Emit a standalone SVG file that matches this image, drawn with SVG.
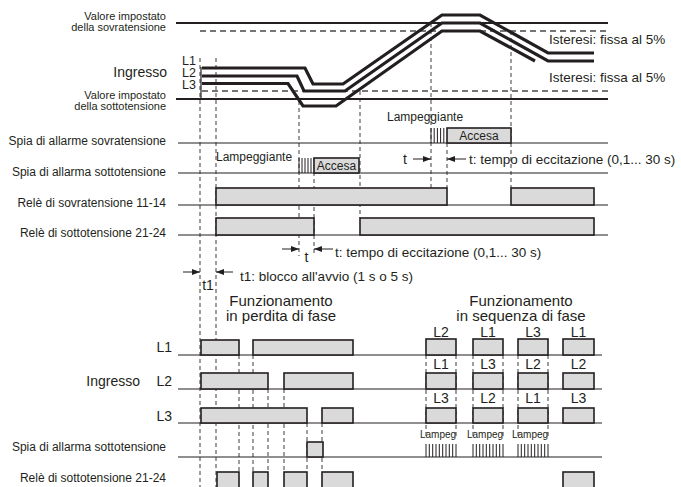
<svg xmlns="http://www.w3.org/2000/svg" width="681" height="487" viewBox="0 0 681 487">
<defs>
<style>
text{font-family:"Liberation Sans",Arial,sans-serif;fill:#231f20}
.s11{font-size:11px}
.s12{font-size:12px}
.s13{font-size:13.5px}
.sL{font-size:12.5px}
.s14{font-size:14px}
.s15{font-size:15px}
.s10{font-size:10px}
.e{text-anchor:end}
.m{text-anchor:middle}
.row{stroke:#231f20;stroke-width:1.2;fill:none}
.set{stroke:#231f20;stroke-width:2;fill:none}
.hd{stroke:#4a4a4a;stroke-width:1.3;stroke-dasharray:6 4;fill:none}
.vd{stroke:#3c3c3c;stroke-width:1;stroke-dasharray:4 3;fill:none}
.box{fill:#dadada;stroke:#231f20;stroke-width:1.6}
.wave{fill:none;stroke:#231f20;stroke-width:3.2;stroke-linejoin:miter}
.hat{stroke:#231f20;stroke-width:1}
.ar{stroke:#231f20;stroke-width:1;fill:none}
</style>
<marker id="arr" viewBox="0 0 8 6" refX="8" refY="3" markerWidth="8" markerHeight="6" markerUnits="userSpaceOnUse" orient="auto">
<path d="M0,0 L8,3 L0,6 z" fill="#231f20"/>
</marker>
</defs>
<rect width="681" height="487" fill="#ffffff"/>

<g id="connectors">
<line class="vd" x1="200" y1="58" x2="200" y2="487"/>
<line class="vd" x1="216" y1="58" x2="216" y2="487"/>
<line class="vd" x1="299" y1="101" x2="299" y2="256"/>
<line class="vd" x1="314" y1="158" x2="314" y2="256"/>
<line class="vd" x1="360" y1="91" x2="360" y2="218"/>
<line class="vd" x1="431" y1="23" x2="431" y2="188"/>
<line class="vd" x1="447" y1="143" x2="447" y2="188"/>
<line class="vd" x1="511" y1="31" x2="511" y2="188"/>
<line class="vd" x1="239" y1="355" x2="239" y2="472"/>
<line class="vd" x1="253" y1="355" x2="253" y2="472"/>
<line class="vd" x1="268" y1="389" x2="268" y2="472"/>
<line class="vd" x1="284" y1="389" x2="284" y2="472"/>
<line class="vd" x1="307" y1="423" x2="307" y2="472"/>
<line class="vd" x1="322" y1="423" x2="322" y2="472"/>
<line class="vd" x1="426" y1="355" x2="426" y2="436"/>
<line class="vd" x1="456" y1="355" x2="456" y2="436"/>
<line class="vd" x1="473" y1="355" x2="473" y2="436"/>
<line class="vd" x1="503" y1="355" x2="503" y2="436"/>
<line class="vd" x1="518" y1="355" x2="518" y2="436"/>
<line class="vd" x1="548" y1="355" x2="548" y2="436"/>
<line class="ar" x1="413" y1="159" x2="431" y2="159" marker-end="url(#arr)"/>
<line class="ar" x1="466" y1="159" x2="447" y2="159" marker-end="url(#arr)"/>
<line class="ar" x1="282" y1="249" x2="299" y2="249" marker-end="url(#arr)"/>
<line class="ar" x1="333" y1="249" x2="314" y2="249" marker-end="url(#arr)"/>
<line class="ar" x1="183" y1="272" x2="200" y2="272" marker-end="url(#arr)"/>
<line class="ar" x1="233" y1="272" x2="216" y2="272" marker-end="url(#arr)"/>
</g>

<g id="input-top">
<line class="set" x1="176" y1="23" x2="608" y2="23"/>
<line class="hd" x1="200" y1="31" x2="608" y2="31"/>
<line class="hd" x1="202" y1="91" x2="608" y2="91"/>
<line class="set" x1="176" y1="99" x2="608" y2="99"/>
<text class="s11 e" x="166" y="20">Valore impostato</text>
<text class="s11 e" x="166" y="30.5">della sovratensione</text>
<text class="s11 e" x="166" y="99">Valore impostato</text>
<text class="s11 e" x="166" y="109.5">della sottotensione</text>
<text class="s14 e" x="167" y="77">Ingresso</text>
<text class="sL" x="182" y="65">L1</text>
<text class="sL" x="182" y="77">L2</text>
<text class="sL" x="182" y="89">L3</text>
<text class="s13" x="549" y="44">Isteresi: fissa al 5%</text>
<text class="s13" x="549" y="82">Isteresi: fissa al 5%</text>
<line class="row" x1="201" y1="67" x2="201" y2="99"/>
<polyline class="wave" points="202,68 305,68 313,84 343,84 442,15 480,15 548,53 594,53"/>
<polyline class="wave" points="202,76 297,76 304,91 345,91 442,23 480,23 548,61 594,61"/>
<polyline class="wave" points="202,83.5 288,83.5 303,106 336,106 442,31 480,31 535,61"/>
</g>

<g id="rows-top">
<line class="row" x1="178" y1="143" x2="608" y2="143"/>
<line class="row" x1="178" y1="173" x2="608" y2="173"/>
<line class="row" x1="178" y1="205" x2="608" y2="205"/>
<line class="row" x1="178" y1="235" x2="608" y2="235"/>
<text class="s12 e" x="166" y="145">Spia di allarme sovratensione</text>
<text class="s12 e" x="166" y="175.5">Spia di allarma sottotensione</text>
<text class="s12 e" x="166" y="206.5">Relè di sovratensione 11-14</text>
<text class="s12 e" x="166" y="236.5">Relè di sottotensione 21-24</text>
</g>

<g id="lamp-over">
<text class="s12" x="387" y="121">Lampeggiante</text>
<g class="hat"><line x1="431" y1="128" x2="431" y2="143"/><line x1="434.2" y1="128" x2="434.2" y2="143"/><line x1="437.4" y1="128" x2="437.4" y2="143"/><line x1="440.6" y1="128" x2="440.6" y2="143"/><line x1="443.8" y1="128" x2="443.8" y2="143"/></g>
<rect class="box" x="447" y="128" width="64" height="15"/>
<text class="s12 m" x="479" y="140">Accesa</text>
</g>

<g id="lamp-under">
<text class="s12" x="216" y="160.5">Lampeggiante</text>
<g class="hat"><line x1="299" y1="158" x2="299" y2="173"/><line x1="302" y1="158" x2="302" y2="173"/><line x1="305" y1="158" x2="305" y2="173"/><line x1="308" y1="158" x2="308" y2="173"/><line x1="311" y1="158" x2="311" y2="173"/></g>
<rect class="box" x="314" y="158" width="45" height="15"/>
<text class="s12 m" x="336.5" y="170">Accesa</text>
</g>

<g id="relay-over">
<rect class="box" x="216" y="188" width="231" height="17"/>
<rect class="box" x="511" y="188" width="83" height="17"/>
</g>
<g id="relay-under">
<rect class="box" x="216" y="218" width="98" height="17"/>
<rect class="box" x="360" y="218" width="234" height="17"/>
</g>

<g id="timing-labels">
<text class="s14 m" x="405" y="164">t</text>
<text class="s13" x="469" y="164">t: tempo di eccitazione (0,1... 30 s)</text>
<text class="s14 m" x="306.5" y="261.5">t</text>
<text class="s13" x="335" y="257">t: tempo di eccitazione (0,1... 30 s)</text>
<text class="s14 m" x="208" y="289.5">t1</text>
<text class="s13" x="240" y="281">t1: blocco all'avvio (1 s o 5 s)</text>
</g>

<g id="rows-bottom">
<line class="row" x1="178" y1="355" x2="602" y2="355"/>
<line class="row" x1="178" y1="389" x2="602" y2="389"/>
<line class="row" x1="178" y1="423" x2="602" y2="423"/>
<line class="row" x1="178" y1="457" x2="602" y2="457"/>
<line class="row" x1="178" y1="490" x2="602" y2="490"/>
<text class="s14 e" x="172" y="352">L1</text>
<text class="s14 e" x="140" y="386">Ingresso</text>
<text class="s14 e" x="172" y="386">L2</text>
<text class="s14 e" x="172" y="420.5">L3</text>
<text class="s12 e" x="166" y="450.5">Spia di allarma sottotensione</text>
<text class="s12 e" x="166" y="482">Relè di sottotensione 21-24</text>
</g>

<g id="phase-loss">
<text class="s15 m" x="281" y="306">Funzionamento</text>
<text class="s15 m" x="281" y="321">in perdita di fase</text>
<rect class="box" x="201" y="340" width="38" height="15"/>
<rect class="box" x="253" y="340" width="100" height="15"/>
<rect class="box" x="201" y="373" width="67" height="16"/>
<rect class="box" x="284" y="373" width="69" height="16"/>
<rect class="box" x="201" y="408" width="106" height="15"/>
<rect class="box" x="322" y="408" width="31" height="15"/>
<rect class="box" x="307" y="442" width="16" height="15"/>
<rect class="box" x="217" y="472" width="22" height="18"/>
<rect class="box" x="253" y="472" width="15" height="18"/>
<rect class="box" x="284" y="472" width="23" height="18"/>
<rect class="box" x="322" y="472" width="31" height="18"/>
</g>

<g id="phase-sequence">
<text class="s15 m" x="521" y="305.5">Funzionamento</text>
<text class="s15 m" x="521" y="321">in sequenza di fase</text>
<text class="s14 m" x="441" y="337">L2</text>
<text class="s14 m" x="488" y="337">L1</text>
<text class="s14 m" x="533" y="337">L3</text>
<text class="s14 m" x="578.5" y="337">L1</text>
<text class="s14 m" x="441" y="369">L1</text>
<text class="s14 m" x="488" y="369">L3</text>
<text class="s14 m" x="533" y="369">L2</text>
<text class="s14 m" x="578.5" y="369">L2</text>
<text class="s14 m" x="441" y="403">L3</text>
<text class="s14 m" x="488" y="403">L2</text>
<text class="s14 m" x="533" y="403">L1</text>
<text class="s14 m" x="578.5" y="403">L3</text>
<rect class="box" x="426" y="339" width="30" height="16"/>
<rect class="box" x="473" y="339" width="30" height="16"/>
<rect class="box" x="518" y="339" width="30" height="16"/>
<rect class="box" x="563" y="339" width="31" height="16"/>
<rect class="box" x="426" y="373" width="30" height="16"/>
<rect class="box" x="473" y="373" width="30" height="16"/>
<rect class="box" x="518" y="373" width="30" height="16"/>
<rect class="box" x="563" y="373" width="31" height="16"/>
<rect class="box" x="426" y="408" width="30" height="15"/>
<rect class="box" x="473" y="408" width="30" height="15"/>
<rect class="box" x="518" y="408" width="30" height="15"/>
<rect class="box" x="563" y="408" width="31" height="15"/>
<text class="s10" x="420" y="438">Lampeg</text>
<text class="s10" x="467" y="438">Lampeg</text>
<text class="s10" x="512" y="438">Lampeg</text>
<g class="hat">
<path d="M426,444V457M429.3,444V457M432.7,444V457M436,444V457M439.3,444V457M442.7,444V457M446,444V457M449.3,444V457M452.7,444V457M456,444V457"/>
<path d="M473,444V457M476.3,444V457M479.7,444V457M483,444V457M486.3,444V457M489.7,444V457M493,444V457M496.3,444V457M499.7,444V457M503,444V457"/>
<path d="M518,444V457M521.3,444V457M524.7,444V457M528,444V457M531.3,444V457M534.7,444V457M538,444V457M541.3,444V457M544.7,444V457M548,444V457"/>
</g>
<rect class="box" x="563" y="472" width="31" height="18"/>
</g>
</svg>
